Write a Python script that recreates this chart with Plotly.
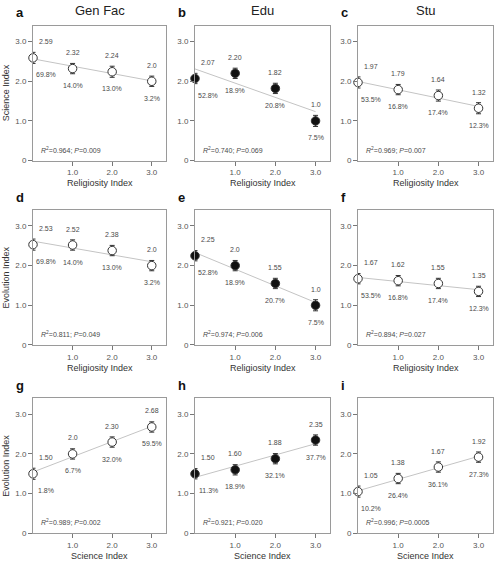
import numpy as np
import plotly.graph_objects as go

FONT = "Liberation Sans, Arial, sans-serif"
W, H = 498, 564

x_vals = [0, 1, 2, 3]

panel_letters = ["a", "b", "c", "d", "e", "f", "g", "h", "i"]
col_titles = ["Gen Fac", "Edu", "Stu"]
row_xtitles = ["Religiosity Index", "Religiosity Index", "Science Index"]
row_ytitles = ["Science Index", "Evolution Index", "Evolution Index"]

means_a = [2.59, 2.32, 2.24, 2.0]
means_b = [2.07, 2.20, 1.82, 1.0]
means_c = [1.97, 1.79, 1.64, 1.32]
means_d = [2.53, 2.52, 2.38, 2.0]
means_e = [2.25, 2.0, 1.55, 1.0]
means_f = [1.67, 1.62, 1.55, 1.35]
means_g = [1.50, 2.0, 2.30, 2.68]
means_h = [1.50, 1.60, 1.88, 2.35]
means_i = [1.05, 1.38, 1.67, 1.92]

labels_a = ["2.59", "2.32", "2.24", "2.0"]
labels_b = ["2.07", "2.20", "1.82", "1.0"]
labels_c = ["1.97", "1.79", "1.64", "1.32"]
labels_d = ["2.53", "2.52", "2.38", "2.0"]
labels_e = ["2.25", "2.0", "1.55", "1.0"]
labels_f = ["1.67", "1.62", "1.55", "1.35"]
labels_g = ["1.50", "2.0", "2.30", "2.68"]
labels_h = ["1.50", "1.60", "1.88", "2.35"]
labels_i = ["1.05", "1.38", "1.67", "1.92"]

pct_a = ["69.8%", "14.0%", "13.0%", "3.2%"]
pct_b = ["52.8%", "18.9%", "20.8%", "7.5%"]
pct_c = ["53.5%", "16.8%", "17.4%", "12.3%"]
pct_d = ["69.8%", "14.0%", "13.0%", "3.2%"]
pct_e = ["52.8%", "18.9%", "20.7%", "7.5%"]
pct_f = ["53.5%", "16.8%", "17.4%", "12.3%"]
pct_g = ["1.8%", "6.7%", "32.0%", "59.5%"]
pct_h = ["11.3%", "18.9%", "32.1%", "37.7%"]
pct_i = ["10.2%", "26.4%", "36.1%", "27.3%"]

se_a = [0.14, 0.13, 0.14, 0.13]
se_b = [0.13, 0.13, 0.13, 0.14]
se_c = [0.14, 0.13, 0.14, 0.14]
se_d = [0.14, 0.13, 0.13, 0.13]
se_e = [0.13, 0.13, 0.13, 0.14]
se_f = [0.13, 0.13, 0.13, 0.13]
se_g = [0.14, 0.13, 0.13, 0.13]
se_h = [0.13, 0.13, 0.13, 0.13]
se_i = [0.14, 0.13, 0.13, 0.13]

stats = ["0.964", "0.740", "0.969", "0.811", "0.974", "0.894", "0.989", "0.921", "0.996"]
pvals = ["0.009", "0.069", "0.007", "0.049", "0.006", "0.027", "0.002", "0.020", "0.0005"]

filled = [False, True, False, False, True, False, False, True, False]

means = [means_a, means_b, means_c, means_d, means_e, means_f, means_g, means_h, means_i]
labels = [labels_a, labels_b, labels_c, labels_d, labels_e, labels_f, labels_g, labels_h, labels_i]
pcts = [pct_a, pct_b, pct_c, pct_d, pct_e, pct_f, pct_g, pct_h, pct_i]
ses = [se_a, se_b, se_c, se_d, se_e, se_f, se_g, se_h, se_i]

# layout geometry (pixels)
col_px = [(33, 166), (195, 330), (358, 493)]
row_px = [(26, 162), (212, 348), (402, 538)]

fig = go.Figure()
annotations = []

def px(x):
    return x / W

def py(y):
    return 1 - y / H

TXT = "#4a4a4a"

for k in range(9):
    r, c = divmod(k, 3)
    idx = "" if k == 0 else str(k + 1)
    xa, ya = "x" + idx, "y" + idx
    xs = np.array(x_vals, dtype=float)
    ys = np.array(means[k], dtype=float)
    slope, intercept = np.polyfit(xs, ys, 1)
    fig.add_trace(go.Scatter(
        x=[xs[0], xs[-1]], y=[intercept + slope * xs[0], intercept + slope * xs[-1]],
        mode="lines", line=dict(color="#c4c4c4", width=1),
        xaxis=xa, yaxis=ya, showlegend=False, hoverinfo="skip", cliponaxis=False))
    fig.add_trace(go.Scatter(
        x=xs, y=ys, mode="markers",
        marker=dict(size=8.5, color="#111111" if filled[k] else "white",
                    line=dict(color="#333333", width=1)),
        error_y=dict(type="data", array=ses[k], color="#333333", thickness=1, width=2.5),
        xaxis=xa, yaxis=ya, showlegend=False, cliponaxis=False))

    x0, x1 = col_px[c]
    y0, y1 = row_px[r]
    axis_common = dict(showline=True, mirror=True, linecolor="#9a9a9a", linewidth=1,
                       showgrid=False, zeroline=False, ticks="outside", ticklen=4,
                       tickcolor="#777777", tickfont=dict(family=FONT, size=8, color="#555555"))
    fig.update_layout(**{
        ("xaxis" + idx): dict(domain=[px(x0), px(x1)], range=[0, 3.36], anchor=ya,
                              tickvals=[1, 2, 3], ticktext=["1.0", "2.0", "3.0"], **axis_common),
        ("yaxis" + idx): dict(domain=[py(y1), py(y0)], range=[0, 3.4], anchor=xa,
                              tickvals=[0, 1, 2, 3], ticktext=["0", "1.0", "2.0", "3.0"], **axis_common),
    })

    for j in range(4):
        xshift = 13 if j == 0 else 0
        annotations.append(dict(x=x_vals[j], y=means[k][j], xref=xa, yref=ya, text=labels[k][j],
                                showarrow=False, xshift=xshift, yshift=16,
                                font=dict(family=FONT, size=7, color=TXT)))
        annotations.append(dict(x=x_vals[j], y=means[k][j], xref=xa, yref=ya, text=pcts[k][j],
                                showarrow=False, xshift=xshift, yshift=-17,
                                font=dict(family=FONT, size=7, color=TXT)))
    annotations.append(dict(x=px(x0 + 6), y=py(y1 - 11), xref="paper", yref="paper",
                            xanchor="left", yanchor="middle", showarrow=False,
                            text="<i>R</i><sup>2</sup>=" + stats[k] + "; <i>P</i>=" + pvals[k],
                            font=dict(family=FONT, size=7, color=TXT)))
    # panel letter
    annotations.append(dict(x=px(x0 - 19), y=py(y0 - 13), xref="paper", yref="paper",
                            xanchor="left", yanchor="middle", showarrow=False,
                            text="<b>" + panel_letters[k] + "</b>",
                            font=dict(family=FONT, size=13, color="#111111")))
    # x axis title
    annotations.append(dict(x=px((x0 + x1) / 2), y=py(y1 + 23), xref="paper", yref="paper",
                            xanchor="center", yanchor="middle", showarrow=False,
                            text=row_xtitles[r], font=dict(family=FONT, size=9, color="#333333")))
    if c == 0:
        annotations.append(dict(x=px(6), y=py((y0 + y1) / 2), xref="paper", yref="paper",
                                xanchor="center", yanchor="middle", showarrow=False, textangle=-90,
                                text=row_ytitles[r], font=dict(family=FONT, size=9, color="#333333")))

for c in range(3):
    x0, x1 = col_px[c]
    annotations.append(dict(x=px((x0 + x1) / 2), y=py(11), xref="paper", yref="paper",
                            xanchor="center", yanchor="middle", showarrow=False,
                            text=col_titles[c], font=dict(family=FONT, size=13, color="#222222")))

fig.update_layout(width=W, height=H, margin=dict(l=0, r=0, t=0, b=0),
                  paper_bgcolor="white", plot_bgcolor="white",
                  annotations=annotations, showlegend=False)

fig.write_html("out.html")
